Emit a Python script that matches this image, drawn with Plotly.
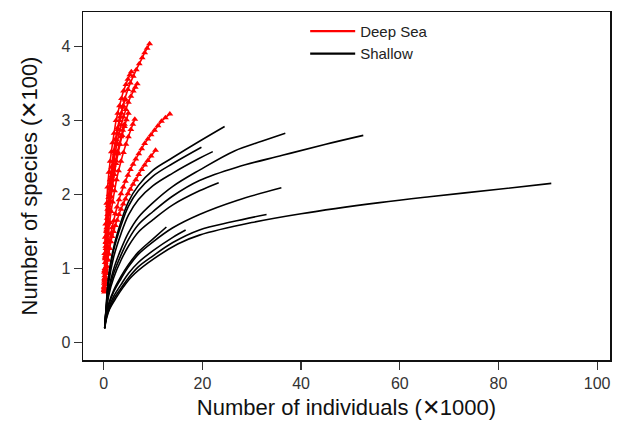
import plotly.graph_objects as go

# ---------------- data (x: individuals x1000, y: species x100) ----------------
# Deep-sea rarefaction curves (red)
deep_R1_x = [0.12,0.18,0.25,0.34,0.45,0.58,0.8,1.0,1.3,1.6,2.0,2.4,2.8,3.3,3.8,4.3,4.9,5.4,6.0,6.6,7.2,7.8,8.3,8.8,9.3]
deep_R1_y = [0.72,0.86,1.00,1.17,1.35,1.52,1.80,1.96,2.20,2.37,2.58,2.75,2.90,3.05,3.18,3.30,3.42,3.51,3.60,3.69,3.77,3.85,3.92,3.98,4.04]
deep_R2_x = [0.15,0.25,0.37,0.5,0.65,0.82,1.0,1.2,1.45,1.7,2.0,2.35,2.7,3.1,3.5,3.95,4.4,4.9,5.4,5.95,6.5,7.1,7.7,8.3,8.95,9.6,10.3,11.0,11.7,12.5,13.4]
deep_R2_y = [0.70,0.81,0.93,1.02,1.11,1.21,1.29,1.37,1.47,1.55,1.64,1.74,1.83,1.93,2.01,2.10,2.18,2.26,2.34,2.41,2.48,2.55,2.62,2.69,2.75,2.81,2.87,2.93,2.99,3.04,3.09]
deep_R3_x = [0.15,0.25,0.37,0.5,0.65,0.82,1.0,1.2,1.45,1.7,2.0,2.35,2.7,3.1,3.5,3.95,4.4,4.9,5.4,5.95,6.5,7.1,7.7,8.3,8.95,9.6,10.5]
deep_R3_y = [0.68,0.78,0.87,0.95,1.03,1.12,1.19,1.27,1.36,1.43,1.50,1.58,1.65,1.73,1.80,1.87,1.94,2.01,2.07,2.14,2.20,2.27,2.34,2.40,2.46,2.52,2.60]
deep_B1_x = [0.1,0.15,0.2,0.3,0.4,0.6,0.8,1.05,1.3,1.55,1.8,2.1,2.5,2.85,3.2,3.6,4.0,4.5,4.9,5.3,5.6]
deep_B1_y = [0.75,0.95,1.20,1.42,1.60,1.88,2.10,2.30,2.45,2.58,2.70,2.83,3.00,3.10,3.20,3.30,3.40,3.49,3.56,3.62,3.66]
deep_B2_x = [0.12,0.2,0.3,0.45,0.6,0.8,1.0,1.3,1.6,1.95,2.3,2.7,3.1,3.55,4.0,4.5,5.0,5.5,6.0,6.4,6.8]
deep_B2_y = [0.80,0.97,1.15,1.36,1.55,1.73,1.90,2.08,2.25,2.40,2.55,2.69,2.82,2.94,3.05,3.15,3.25,3.33,3.40,3.45,3.50]
deep_B3_x = [0.15,0.25,0.35,0.5,0.7,0.95,1.2,1.5,1.8,2.2,2.6,3.0,3.5,4.0,4.5,5.0,5.5,5.9,6.3]
deep_B3_y = [0.70,0.85,0.98,1.14,1.30,1.47,1.62,1.77,1.90,2.05,2.20,2.32,2.45,2.57,2.68,2.78,2.88,2.95,3.02]
deep_B4_x = [0.1,0.15,0.2,0.3,0.4,0.55,0.7,0.9,1.1,1.35,1.6,1.9,2.2,2.55,2.9,3.25,3.6,3.95,4.3]
deep_B4_y = [0.70,0.83,0.95,1.13,1.30,1.50,1.68,1.85,2.00,2.16,2.30,2.45,2.60,2.74,2.88,3.00,3.10,3.20,3.28]
deep_B5_x = [0.15,0.25,0.35,0.5,0.7,0.95,1.2,1.5,1.8,2.15,2.5,2.9,3.3,3.75,4.2,4.6,5.0]
deep_B5_y = [0.72,0.87,1.00,1.20,1.40,1.60,1.80,1.97,2.12,2.27,2.42,2.55,2.68,2.80,2.92,3.01,3.10]
deep_B6_x = [0.12,0.2,0.3,0.45,0.6,0.8,1.0,1.25,1.5,1.8,2.1,2.45,2.8,3.15,3.5,3.85,4.2]
deep_B6_y = [0.74,0.90,1.08,1.27,1.45,1.62,1.78,1.92,2.06,2.20,2.33,2.46,2.58,2.68,2.78,2.87,2.95]

# Shallow-water rarefaction curves (black)
shal_A_x = [0.2,0.6,1.2,2.5,4,5.7,8.9,15,19.4,30,40,55.9,66,80,90.7]
shal_A_y = [0.19,0.33,0.45,0.60,0.75,0.89,1.07,1.33,1.45,1.62,1.74,1.89,1.97,2.07,2.15]
shal_B_x = [0.2,0.5,1,2,3.5,5,7,10,14,19.4,27,36.2,45,52.6]
shal_B_y = [0.19,0.43,0.67,0.93,1.18,1.39,1.59,1.77,1.98,2.19,2.37,2.53,2.68,2.80]
shal_C_x = [0.2,0.5,1,2,3.5,5,7,10,14,19.4,26.5,32,36.8]
shal_C_y = [0.19,0.45,0.71,0.99,1.26,1.48,1.69,1.89,2.11,2.33,2.59,2.72,2.83]
shal_D_x = [0.2,0.5,1,2,3.5,5,7,10,14,19.4,24.5]
shal_D_y = [0.20,0.49,0.90,1.28,1.63,1.90,2.12,2.33,2.50,2.72,2.92]
shal_E_x = [0.2,0.5,1,2,3.5,5,7,10,14,19.8]
shal_E_y = [0.20,0.47,0.87,1.24,1.58,1.84,2.05,2.25,2.42,2.64]
shal_F_x = [0.2,0.5,1,2,3.5,5,7,10,14,19.4,22.1]
shal_F_y = [0.20,0.45,0.80,1.15,1.47,1.72,1.93,2.12,2.29,2.49,2.58]
shal_G_x = [0.2,0.5,1,2,3.5,5,7,10,14,19.4,23.3]
shal_G_y = [0.19,0.40,0.63,0.87,1.11,1.30,1.49,1.66,1.86,2.05,2.16]
shal_H_x = [0.2,0.5,1,2,3.5,5,7,10,14,19.4,27,36]
shal_H_y = [0.19,0.36,0.50,0.68,0.86,1.02,1.19,1.36,1.55,1.73,1.92,2.09]
shal_I_x = [0.2,0.5,1,2,3.5,5,7,10,14,19.4,26,33]
shal_I_y = [0.19,0.32,0.43,0.58,0.73,0.87,1.02,1.17,1.35,1.52,1.63,1.73]
shal_J_x = [0.2,0.5,1,2,3.5,5,7,10,14,16.6]
shal_J_y = [0.19,0.34,0.46,0.62,0.78,0.93,1.08,1.24,1.42,1.52]
shal_K_x = [0.2,0.5,1,2,3.5,5,7,10,12.7]
shal_K_y = [0.19,0.37,0.52,0.70,0.89,1.05,1.22,1.40,1.56]

x_ticks = [0, 20, 40, 60, 80, 100]
y_ticks = [0, 1, 2, 3, 4]
legend_names = ["Deep Sea", "Shallow"]
x_title = "Number of individuals (✕1000)"
y_title = "Number of species (✕100)"

deep = [(deep_R1_x, deep_R1_y), (deep_R2_x, deep_R2_y), (deep_R3_x, deep_R3_y),
        (deep_B1_x, deep_B1_y), (deep_B2_x, deep_B2_y), (deep_B3_x, deep_B3_y),
        (deep_B4_x, deep_B4_y), (deep_B5_x, deep_B5_y), (deep_B6_x, deep_B6_y)]
shallow = [(shal_A_x, shal_A_y), (shal_B_x, shal_B_y), (shal_C_x, shal_C_y),
           (shal_D_x, shal_D_y), (shal_E_x, shal_E_y), (shal_F_x, shal_F_y),
           (shal_G_x, shal_G_y), (shal_H_x, shal_H_y), (shal_I_x, shal_I_y),
           (shal_J_x, shal_J_y), (shal_K_x, shal_K_y)]

RED = "#ff0000"
BLACK = "#000000"
FONT = "Arial, Liberation Sans, Helvetica, sans-serif"

fig = go.Figure()

for xs, ys in deep:
    fig.add_trace(go.Scatter(
        x=xs, y=ys, mode="lines+markers", showlegend=False, hoverinfo="skip",
        line=dict(color=RED, width=1.6, shape="spline"),
        marker=dict(symbol="triangle-up", size=6, color=RED)))

for xs, ys in shallow:
    fig.add_trace(go.Scatter(
        x=xs, y=ys, mode="lines", showlegend=False, hoverinfo="skip",
        line=dict(color=BLACK, width=1.6, shape="spline")))

# legend-only entries
fig.add_trace(go.Scatter(x=[None], y=[None], mode="lines", name=legend_names[0],
                         line=dict(color=RED, width=2.2)))
fig.add_trace(go.Scatter(x=[None], y=[None], mode="lines", name=legend_names[1],
                         line=dict(color=BLACK, width=2.2)))

axis_common = dict(
    showline=True, linecolor="#111111", linewidth=1.5, mirror=True,
    ticks="outside", ticklen=8, tickwidth=1.3, tickcolor="#333333",
    showgrid=False, zeroline=False,
    tickfont=dict(family=FONT, size=16, color="#333333"),
)

fig.update_layout(
    width=619, height=423,
    margin=dict(l=83, r=7, t=12, b=58),
    paper_bgcolor="white", plot_bgcolor="white",
    font=dict(family=FONT, color="#111111"),
    hovermode=False,
    xaxis=dict(range=[-4.2, 102.6], tickvals=x_ticks,
               title=dict(text=x_title, font=dict(family=FONT, size=22, color="#111111"), standoff=9),
               **axis_common),
    yaxis=dict(range=[-0.24, 4.47], tickvals=y_ticks,
               title=dict(text=y_title, font=dict(family=FONT, size=22, color="#111111"), standoff=17),
               **axis_common),
    legend=dict(x=0.4216, y=0.992, xanchor="left", yanchor="top",
                bgcolor="rgba(0,0,0,0)", borderwidth=0,
                font=dict(family=FONT, size=15, color="#222222"),
                tracegroupgap=0, itemwidth=45),
)

# remove the default page margin so the figure fills the window exactly
fig.write_html("out.html",
               config={"displayModeBar": False, "staticPlot": True},
               post_script="document.body.style.margin='0';document.body.style.overflow='hidden';")
